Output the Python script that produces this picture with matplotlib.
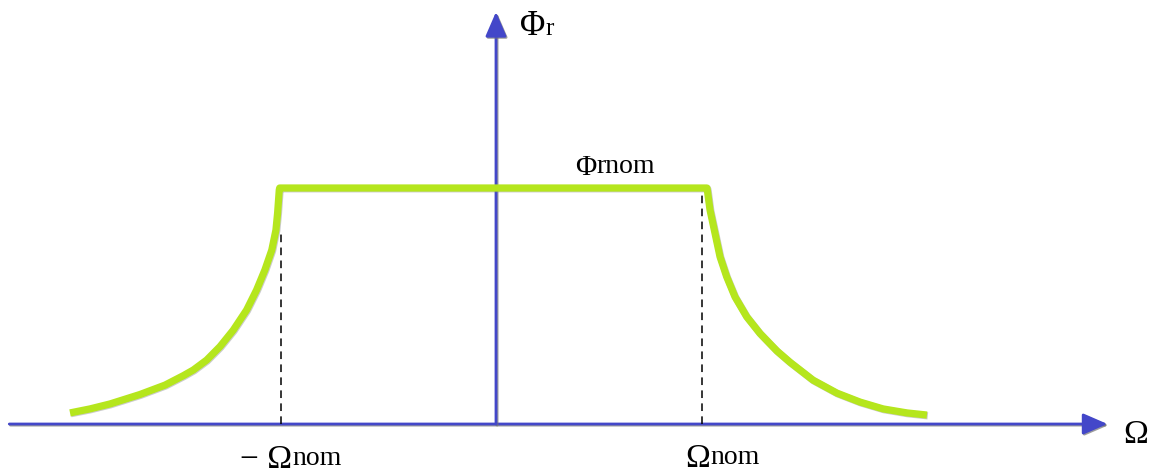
import numpy as np
import matplotlib
matplotlib.use("Agg")
import matplotlib.pyplot as plt
import matplotlib.patheffects as pe
from matplotlib.patches import FancyArrowPatch

# speed (in units of the nominal speed) and rotor flux (in units of nominal flux)
omega_left = [-2.048, -1.952, -1.856, -1.712, -1.591, -1.503, -1.455, -1.391, -1.327,
              -1.263, -1.199, -1.151, -1.111, -1.078, -1.058, -1.050, -1.042, -1.040]
flux_left = [0.047, 0.064, 0.085, 0.125, 0.165, 0.205, 0.229, 0.271, 0.328,
             0.398, 0.483, 0.568, 0.653, 0.737, 0.822, 0.894, 0.992, 1.0]
omega_right = [1.014, 1.016, 1.029, 1.053, 1.077, 1.109, 1.149, 1.205, 1.269,
               1.350, 1.413, 1.524, 1.639, 1.750, 1.861, 1.976, 2.072]
flux_right = [1.0, 0.992, 0.907, 0.808, 0.709, 0.624, 0.539, 0.455, 0.384,
              0.310, 0.262, 0.186, 0.131, 0.093, 0.064, 0.047, 0.038]
omega_nom_marks = [-1.034, 0.99]
dash_tops = [0.82, 0.99]

BLUE = "#4347c9"
GREEN = "#b5e61d"
SERIF = ["Liberation Serif", "DejaVu Serif"]

fig = plt.figure(figsize=(11.54, 4.73), dpi=100)
ax = fig.add_axes([0, 0, 1, 1])
ax.set_xlim(-2.3846, 3.1635)
ax.set_ylim(-0.2076, 1.7966)
ax.axis("off")

shadow = [pe.SimpleLineShadow(offset=(0.8, -0.8), shadow_color="0.45", alpha=0.7), pe.Normal()]

# axes with arrow heads
def axis_arrow(p0, p1):
    arr = FancyArrowPatch(p0, p1, arrowstyle="-|>,head_length=15,head_width=6.5",
                          mutation_scale=1, color=BLUE, lw=2, shrinkA=0, shrinkB=0,
                          zorder=2)
    arr.set_path_effects(shadow)
    ax.add_patch(arr)

axis_arrow((-2.34, 0), (2.94, 0))
axis_arrow((0, 0), (0, 1.746))

# dashed guides at the nominal speed
for xm, top in zip(omega_nom_marks, dash_tops):
    ax.plot([xm, xm], [0, top], color="black", lw=1.1, ls=(0, (5, 3.5)), zorder=3)

# flux curve: field weakening on both sides, constant flux in between
omega = omega_left + omega_right
flux = flux_left + flux_right
ax.plot(omega, flux, color=GREEN, lw=5.2, solid_joinstyle="round",
        solid_capstyle="butt", zorder=4,
        path_effects=[pe.SimpleLineShadow(offset=(0.6, -0.6), shadow_color="0.5", alpha=0.4),
                      pe.Normal()])


def label(x, y, main, sub=None, size=24, subsize=19, dy=2.5):
    t = ax.text(x, y, main, fontsize=size, family=SERIF, ha="left", va="baseline",
                color="black", zorder=5)
    if sub:
        ax.annotate(sub, xy=(1, 0), xycoords=t, xytext=(0, dy), textcoords="offset points",
                    fontsize=subsize, family=SERIF, ha="left", va="bottom", color="black")
    return t


label(0.115, 1.648, "Φ", "r", size=25, subsize=18)
label(0.38, 1.055, "Φ", "rnom", size=21, subsize=20, dy=1.5)
label(-1.23, -0.186, "− Ω", "nom", size=24, subsize=20)
label(0.909, -0.182, "Ω", "nom", size=24, subsize=20)
label(3.014, -0.08, "Ω", size=24)

fig.savefig("out.png", dpi=100, facecolor="white")
